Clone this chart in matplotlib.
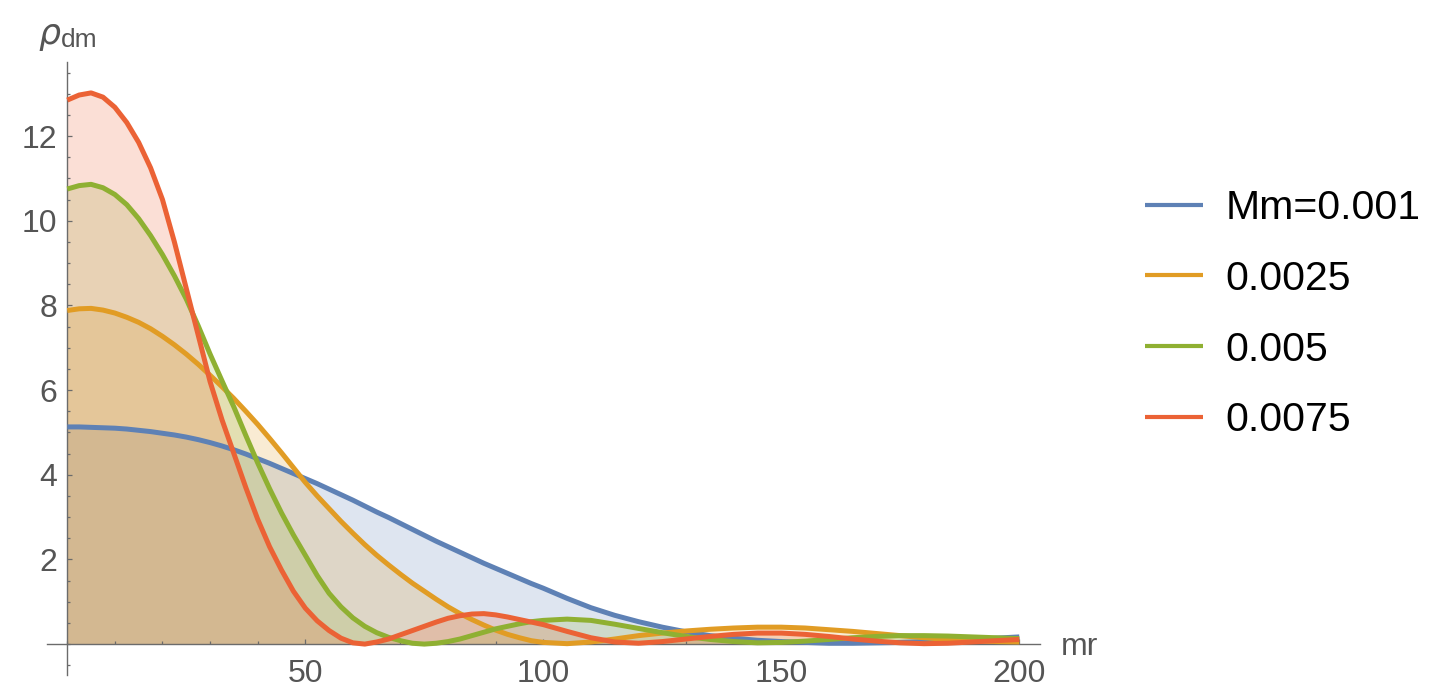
import matplotlib
matplotlib.use("Agg")
import matplotlib.pyplot as plt
from matplotlib.ticker import MultipleLocator, FixedLocator

# ---- data ----
r = [0, 2.5, 5, 7.5, 10, 12.5, 15, 17.5, 20, 22.5, 25, 27.5, 30, 32.5, 35, 37.5,
     40, 42.5, 45, 47.5, 50, 52.5, 55, 57.5, 60, 62.5, 65, 67.5, 70, 72.5, 75, 77.5,
     80, 82.5, 85, 87.5, 90, 92.5, 95, 97.5, 100,
     105, 110, 115, 120, 125, 130, 135, 140, 145, 150, 155, 160, 165, 170, 175,
     180, 185, 190, 195, 200]

rho_0001 = [5.13, 5.13, 5.12, 5.11, 5.10, 5.08, 5.05, 5.02, 4.98, 4.94, 4.89, 4.83,
            4.76, 4.68, 4.59, 4.49, 4.38, 4.27, 4.15, 4.03, 3.91, 3.79, 3.66, 3.53,
            3.40, 3.26, 3.12, 2.99, 2.85, 2.71, 2.57, 2.43, 2.30, 2.17, 2.04, 1.91,
            1.79, 1.67, 1.55, 1.43, 1.32,
            1.08, 0.86, 0.68, 0.53, 0.40, 0.29, 0.20, 0.14, 0.09, 0.06, 0.04, 0.02,
            0.02, 0.03, 0.04, 0.06, 0.08, 0.10, 0.14, 0.17]

rho_00025 = [7.88, 7.92, 7.93, 7.89, 7.82, 7.72, 7.60, 7.45, 7.27, 7.07, 6.85, 6.61,
             6.35, 6.08, 5.80, 5.50, 5.19, 4.86, 4.52, 4.17, 3.82, 3.50, 3.20, 2.90,
             2.62, 2.35, 2.10, 1.87, 1.65, 1.44, 1.25, 1.06, 0.88, 0.72, 0.58, 0.45,
             0.33, 0.23, 0.15, 0.08, 0.04,
             0.01, 0.05, 0.12, 0.20, 0.26, 0.31, 0.35, 0.38, 0.40, 0.40, 0.38, 0.34,
             0.30, 0.25, 0.20, 0.15, 0.11, 0.08, 0.06, 0.05]

rho_0005 = [10.75, 10.83, 10.86, 10.78, 10.62, 10.38, 10.05, 9.65, 9.20, 8.70, 8.15,
            7.52, 6.85, 6.22, 5.60, 4.93, 4.28, 3.67, 3.10, 2.58, 2.10, 1.62, 1.20,
            0.88, 0.62, 0.42, 0.27, 0.16, 0.08, 0.02, 0.00, 0.02, 0.06, 0.12, 0.20,
            0.28, 0.36, 0.42, 0.48, 0.53, 0.56,
            0.59, 0.56, 0.47, 0.37, 0.27, 0.18, 0.11, 0.06, 0.03, 0.04, 0.07, 0.11,
            0.15, 0.18, 0.20, 0.20, 0.19, 0.17, 0.15, 0.13]

rho_00075 = [12.85, 12.97, 13.02, 12.92, 12.68, 12.32, 11.85, 11.25, 10.50, 9.50,
             8.40, 7.30, 6.20, 5.30, 4.50, 3.70, 2.95, 2.30, 1.75, 1.25, 0.85, 0.55,
             0.32, 0.14, 0.03, 0.00, 0.05, 0.12, 0.22, 0.32, 0.42, 0.52, 0.61, 0.67,
             0.71, 0.72, 0.69, 0.64, 0.58, 0.52, 0.46,
             0.30, 0.15, 0.05, 0.02, 0.06, 0.12, 0.18, 0.23, 0.26, 0.26, 0.23, 0.18,
             0.12, 0.07, 0.03, 0.01, 0.02, 0.05, 0.08, 0.11]

series = [rho_0001, rho_00025, rho_0005, rho_00075]
labels = ["Mm=0.001", "0.0025", "0.005", "0.0075"]
colors = ["#5E81B5", "#E19C24", "#8FB032", "#EB6235"]

x_major = [50, 100, 150, 200]
y_major = [2, 4, 6, 8, 10, 12]

# ---- figure ----
W, H = 1449, 697
fig = plt.figure(figsize=(W / 100, H / 100), dpi=100)
ax = fig.add_axes([47 / W, 1 - 675 / H, (1040 - 47) / W, (675 - 62) / H])
ax.set_xlim(-4.26, 204.35)
ax.set_ylim(-0.73, 13.75)

for y, c in zip(series, colors):
    ax.fill_between(r, 0, y, color=c, alpha=0.2, linewidth=0, zorder=1)
handles = []
for y, c, lab in zip(series, colors, labels):
    h, = ax.plot(r, y, color=c, lw=3.6, label=lab, zorder=3,
                 solid_capstyle="butt", solid_joinstyle="round")
    handles.append(h)

axis_col = "#6b6b6b"
for s in ["top", "right"]:
    ax.spines[s].set_visible(False)
ax.spines["left"].set_position(("data", 0))
ax.spines["bottom"].set_position(("data", 0))
for s in ["left", "bottom"]:
    ax.spines[s].set_color(axis_col)
    ax.spines[s].set_linewidth(1.0)
    ax.spines[s].set_zorder(2)

ax.xaxis.set_major_locator(FixedLocator(x_major))
ax.xaxis.set_minor_locator(MultipleLocator(10))
ax.yaxis.set_major_locator(FixedLocator(y_major))
ax.yaxis.set_minor_locator(MultipleLocator(0.5))

ax.tick_params(axis="both", which="both", direction="in", color=axis_col,
               labelcolor="#555555", labelsize=23, width=0.9)
ax.tick_params(axis="x", which="major", length=3.4, pad=11)
ax.tick_params(axis="x", which="minor", length=2.4)
ax.tick_params(axis="y", which="major", length=3.8, pad=7)
ax.tick_params(axis="y", which="minor", length=2.4)
for t in ax.get_xticklabels() + ax.get_yticklabels():
    t.set_fontfamily("Liberation Sans")
ax.set_facecolor("none")

# axis labels
fig.text(38 / W, 1 - 44 / H, "\u03c1", fontsize=25, color="#555555",
         family="DejaVu Sans", style="italic", ha="left", va="baseline")
fig.text(61 / W, 1 - 47 / H, "dm", fontsize=19, color="#555555",
         family="Liberation Sans", ha="left", va="baseline")
fig.text(1061 / W, 1 - 655 / H, "mr", fontsize=23, color="#555555",
         family="Liberation Sans", ha="left", va="baseline")

leg = fig.legend(handles=handles, labels=labels, loc="upper left",
                 bbox_to_anchor=(1145 / W, 1 - 189 / H), frameon=False,
                 prop={"family": "Liberation Sans", "size": 29.5},
                 handlelength=1.42, handletextpad=0.54, labelspacing=0.80,
                 borderaxespad=0, borderpad=0)
for lh in leg.get_lines():
    lh.set_linewidth(3.0)

fig.savefig("out.png", dpi=100)
